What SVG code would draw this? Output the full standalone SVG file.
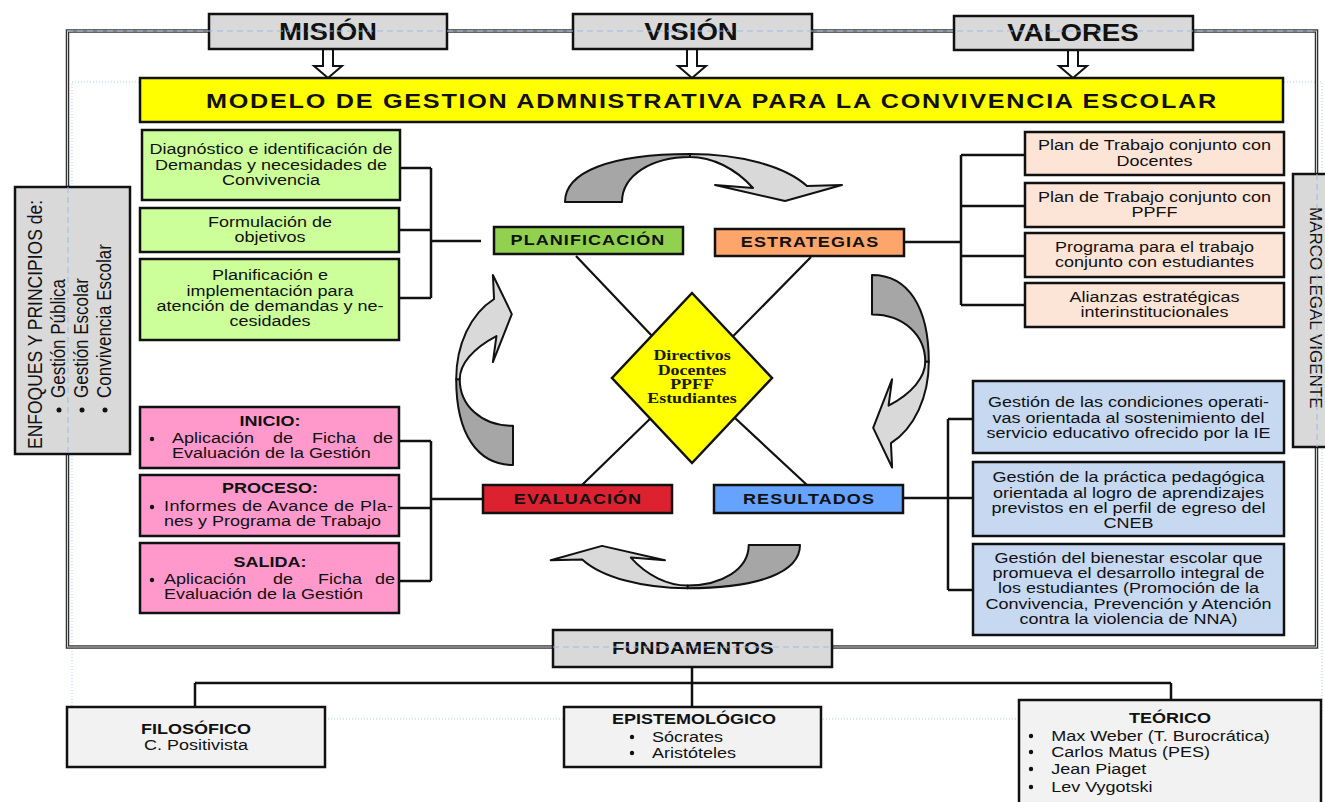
<svg xmlns="http://www.w3.org/2000/svg" width="1325" height="802" viewBox="0 0 1325 802">
<style>
text{font-family:"Liberation Sans",Arial,sans-serif;fill:#111}
.b{font-weight:bold}
.f15{font-size:15px}
.box{stroke:#111;stroke-width:2.5}
.gray{fill:#d9d9d9}
.green{fill:#ccff99}
.peach{fill:#fce4d6}
.pink{fill:#ff99cc}
.blue{fill:#c6d9f1}
.light{fill:#f2f2f2}
.conn{stroke:#111;stroke-width:2.5;fill:none}
.guide{stroke:#9dbbe0;stroke-width:1;fill:none;stroke-dasharray:6 4}
.dots{stroke:#a9cdf0;stroke-width:1;fill:none;stroke-dasharray:1 2}
.ad{fill:#a6a6a6;stroke:#111;stroke-width:2;vector-effect:non-scaling-stroke;stroke-linejoin:round}
.al{fill:#d9d9d9;stroke:#111;stroke-width:2;vector-effect:non-scaling-stroke;stroke-linejoin:round}
.lab{font-size:15px;font-weight:bold;letter-spacing:0.9px;text-anchor:middle}
.serif{font-family:"Liberation Serif","Times New Roman",serif;font-weight:bold;font-size:14px;text-anchor:middle;fill:#1a1a00}
.c{text-anchor:middle}
</style>
<defs>
<g id="arw">
<path class="ad" d="M565,202 C565,172 610,154 690,154 L690,157 C652,157 622,175 622,202 Z"/>
<path class="al" d="M690,154 C740,154 785,166 807,186 L842,185 L785,201 L715,185 L753,188 C735,168 712,157 690,157 Z"/>
</g>
</defs>

<!-- background guides and frame -->
<rect class="dots" x="72" y="82" width="1250" height="637"/>
<rect x="67.5" y="31" width="1249" height="616" fill="none" stroke="#333" stroke-width="3.5"/>
<rect x="67.5" y="31" width="1249" height="616" fill="none" stroke="#d0d0d0" stroke-width="1"/>

<!-- connectors -->
<g id="connectors">
<path d="M323,49 V66 H314 L328,78 L342,66 H333 V49 Z" fill="#fff" stroke="#111" stroke-width="2"/>
<path d="M687,49 V66 H678 L692,78 L706,66 H697 V49 Z" fill="#fff" stroke="#111" stroke-width="2"/>
<path d="M1068,50 V66 H1059 L1073,78 L1087,66 H1078 V50 Z" fill="#fff" stroke="#111" stroke-width="2"/>
<path class="conn" d="M400,168 H431 M400,230 H431 M400,298 H431 M431,168 V298 M431,241 H481"/>
<path class="conn" d="M904,242 H961 M961,155 V305 M961,155 H1025 M961,206 H1025 M961,256 H1025 M961,305 H1025"/>
<path class="conn" d="M399,441 H431 M399,508 H431 M399,581 H431 M431,441 V581 M431,499 H483"/>
<path class="conn" d="M948,419 V590 M948,419 H973 M948,590 H973 M903,498 H973"/>
<path stroke="#111" stroke-width="2.2" fill="none" d="M576,256 L692,378 M811,257 L692,378 M582,485 L692,378 M807,485 L692,378"/>
<path class="conn" d="M692,667 V707 M195,683 H1171 M195,683 V707 M1171,683 V700"/>
<use href="#arw"/>
<use href="#arw" transform="matrix(0,0.695,-1.1837,0,1111.1,-117.7)"/>
<use href="#arw" transform="matrix(-0.9,0,0,-0.9,1308.5,726.8)"/>
<use href="#arw" transform="matrix(0,-0.6859,1.1837,0,273.9,852.5)"/>
</g>

<!-- top boxes -->
<g id="mision">
<rect class="box gray" x="209" y="14" width="238" height="35"/>
<text class="b c" font-size="23" transform="translate(328,0) scale(1.2,1)" y="40">MISIÓN</text>
</g>
<g id="vision">
<rect class="box gray" x="573" y="14" width="239" height="35"/>
<text class="b c" font-size="23" transform="translate(691,0) scale(1.2,1)" y="40">VISIÓN</text>
</g>
<g id="valores">
<rect class="box gray" x="954" y="16" width="239" height="34"/>
<text class="b c" font-size="23" transform="translate(1073,0) scale(1.2,1)" y="41">VALORES</text>
</g>

<g id="titulo">
<rect class="box" fill="#ffff00" x="140" y="78" width="1143" height="44"/>
<text class="b c" font-size="21" letter-spacing="1.45" transform="translate(712,0) scale(1.2,1)" y="108">MODELO DE GESTION ADMNISTRATIVA PARA LA CONVIVENCIA ESCOLAR</text>
</g>

<!-- side boxes -->
<g id="enfoques">
<rect class="box gray" x="15" y="187" width="115" height="267"/>
<text font-size="17.5" textLength="249" lengthAdjust="spacingAndGlyphs" transform="translate(42,449) scale(1.2,1) rotate(-90)">ENFOQUES Y PRINCIPIOS de:</text>
<circle cx="59" cy="410" r="2.5" fill="#111"/>
<circle cx="82" cy="410" r="2.5" fill="#111"/>
<circle cx="105" cy="410" r="2.5" fill="#111"/>
<text font-size="17" transform="translate(65,398) scale(1.2,1) rotate(-90)">Gestión Pública</text>
<text font-size="17" transform="translate(88,398) scale(1.2,1) rotate(-90)">Gestión Escolar</text>
<text font-size="17" transform="translate(111,398) scale(1.2,1) rotate(-90)">Convivencia Escolar</text>
</g>
<g id="marco">
<rect class="box gray" x="1293" y="174" width="45" height="273"/>
<text font-size="17" transform="translate(1310,207) rotate(90)">MARCO LEGAL VIGENTE</text>
</g>

<path class="guide" d="M67,31 H1316 M68,187 V454 M1317,174 V447"/>

<!-- green boxes -->
<g id="diagnostico">
<rect class="box green" x="142" y="130" width="258" height="70"/>
<g transform="translate(271,0) scale(1.2,1)" class="f15 c">
<text y="154">Diagnóstico e identificación de</text>
<text y="170">Demandas y necesidades de</text>
<text y="185">Convivencia</text>
</g>
</g>
<g id="formulacion">
<rect class="box green" x="140" y="208" width="259" height="44"/>
<g transform="translate(270,0) scale(1.2,1)" class="f15 c">
<text y="227">Formulación de</text>
<text y="242">objetivos</text>
</g>
</g>
<g id="planif-impl">
<rect class="box green" x="140" y="259" width="259" height="81"/>
<g transform="translate(270,0) scale(1.2,1)" class="f15 c">
<text y="280">Planificación e</text>
<text y="296">implementación para</text>
<text y="311">atención de demandas y ne-</text>
<text y="326">cesidades</text>
</g>
</g>

<!-- peach boxes -->
<g id="plan-docentes">
<rect class="box peach" x="1025" y="132" width="259" height="43"/>
<g transform="translate(1154.5,0) scale(1.2,1)" class="f15 c">
<text y="150">Plan de Trabajo conjunto con</text>
<text y="166">Docentes</text>
</g>
</g>
<g id="plan-ppff">
<rect class="box peach" x="1025" y="183" width="259" height="44"/>
<g transform="translate(1154.5,0) scale(1.2,1)" class="f15 c">
<text y="202">Plan de Trabajo conjunto con</text>
<text y="217">PPFF</text>
</g>
</g>
<g id="programa">
<rect class="box peach" x="1025" y="233" width="259" height="44"/>
<g transform="translate(1154.5,0) scale(1.2,1)" class="f15 c">
<text y="252">Programa para el trabajo</text>
<text y="267">conjunto con estudiantes</text>
</g>
</g>
<g id="alianzas">
<rect class="box peach" x="1025" y="283" width="259" height="44"/>
<g transform="translate(1154.5,0) scale(1.2,1)" class="f15 c">
<text y="302">Alianzas estratégicas</text>
<text y="317">interinstitucionales</text>
</g>
</g>

<!-- pink boxes -->
<g id="inicio">
<rect class="box pink" x="140" y="407" width="259" height="61"/>
<circle cx="152" cy="439" r="2.2" fill="#111"/>
<g transform="translate(270,0) scale(1.2,1)" class="f15">
<text class="b c" y="426">INICIO:</text>
<text x="-81.7" y="443">Aplicación</text>
<text x="2.5" y="443">de</text>
<text x="35" y="443">Ficha</text>
<text x="85.8" y="443">de</text>
<text x="-81.7" y="458">Evaluación de la Gestión</text>
</g>
</g>
<g id="proceso">
<rect class="box pink" x="140" y="475" width="259" height="61"/>
<circle cx="152" cy="507" r="2.2" fill="#111"/>
<g transform="translate(270,0) scale(1.2,1)" class="f15">
<text class="b c" y="493">PROCESO:</text>
<text x="-88.3" y="511" textLength="190.8" lengthAdjust="spacing">Informes de Avance de Pla-</text>
<text x="-88.3" y="526">nes y Programa de Trabajo</text>
</g>
</g>
<g id="salida">
<rect class="box pink" x="140" y="543" width="259" height="70"/>
<circle cx="152" cy="580" r="2.2" fill="#111"/>
<g transform="translate(270,0) scale(1.2,1)" class="f15">
<text class="b c" y="567">SALIDA:</text>
<text x="-88.3" y="584">Aplicación</text>
<text x="2.5" y="584">de</text>
<text x="40" y="584">Ficha</text>
<text x="87.5" y="584">de</text>
<text x="-88.3" y="599">Evaluación de la Gestión</text>
</g>
</g>

<!-- blue boxes -->
<g id="condiciones">
<rect class="box blue" x="973" y="381" width="311" height="72"/>
<g transform="translate(1128.5,0) scale(1.2,1)" class="f15 c">
<text y="407">Gestión de las condiciones operati-</text>
<text y="423">vas orientada al sostenimiento del</text>
<text y="438">servicio educativo ofrecido por la IE</text>
</g>
</g>
<g id="practica">
<rect class="box blue" x="973" y="462" width="311" height="74"/>
<g transform="translate(1128.5,0) scale(1.2,1)" class="f15 c">
<text y="482">Gestión de la práctica pedagógica</text>
<text y="498">orientada al logro de aprendizajes</text>
<text y="513">previstos en el perfil de egreso del</text>
<text y="528">CNEB</text>
</g>
</g>
<g id="bienestar">
<rect class="box blue" x="973" y="544" width="311" height="91"/>
<g transform="translate(1128.5,0) scale(1.2,1)" class="f15 c">
<text y="563">Gestión del bienestar escolar que</text>
<text y="578">promueva el desarrollo integral de</text>
<text y="593">los estudiantes (Promoción de la</text>
<text y="609">Convivencia, Prevención y Atención</text>
<text y="624">contra la violencia de NNA)</text>
</g>
</g>

<!-- cycle labels -->
<g id="planificacion">
<rect class="box" fill="#92d050" x="494" y="227" width="189" height="27"/>
<text class="lab" transform="translate(588,0) scale(1.2,1)" y="245">PLANIFICACIÓN</text>
</g>
<g id="estrategias">
<rect class="box" fill="#fda56a" x="715" y="229" width="189" height="27"/>
<text class="lab" transform="translate(810,0) scale(1.2,1)" y="247">ESTRATEGIAS</text>
</g>
<g id="evaluacion">
<rect class="box" fill="#dc2230" x="483" y="485" width="189" height="28"/>
<text class="lab" transform="translate(578,0) scale(1.2,1)" y="504">EVALUACIÓN</text>
</g>
<g id="resultados">
<rect class="box" fill="#66a3ff" x="714" y="485" width="189" height="28"/>
<text class="lab" transform="translate(809,0) scale(1.2,1)" y="504">RESULTADOS</text>
</g>

<g id="actores">
<path d="M692,293 L772,378 L692,463 L612,378 Z" fill="#ffff00" stroke="#111" stroke-width="2.5"/>
<g transform="translate(692,0) scale(1.28,1)">
<text class="serif" y="360">Directivos</text>
<text class="serif" y="375">Docentes</text>
<text class="serif" y="389">PPFF</text>
<text class="serif" y="403">Estudiantes</text>
</g>
</g>

<!-- fundamentos -->
<g id="fundamentos">
<rect class="box gray" x="553" y="630" width="279" height="37"/>
<text class="b c" font-size="17" letter-spacing="0.3" transform="translate(693,0) scale(1.2,1)" y="654">FUNDAMENTOS</text>
</g>
<path class="guide" d="M553,647 H832"/>
<g id="filosofico">
<rect class="box light" x="67" y="707" width="258" height="60"/>
<g transform="translate(196,0) scale(1.2,1)" class="f15 c">
<text class="b" y="734">FILOSÓFICO</text>
<text y="750">C. Positivista</text>
</g>
</g>
<g id="epistemologico">
<rect class="box light" x="564" y="707" width="257" height="60"/>
<circle cx="632" cy="737" r="2.2" fill="#111"/>
<circle cx="632" cy="753" r="2.2" fill="#111"/>
<g transform="translate(694,0) scale(1.2,1)" class="f15">
<text class="b c" y="724">EPISTEMOLÓGICO</text>
<text x="-35" y="742">Sócrates</text>
<text x="-35" y="758">Aristóteles</text>
</g>
</g>
<g id="teorico">
<rect class="box light" x="1019" y="700" width="302" height="112"/>
<circle cx="1031" cy="736" r="2.2" fill="#111"/>
<circle cx="1031" cy="752" r="2.2" fill="#111"/>
<circle cx="1031" cy="769" r="2.2" fill="#111"/>
<circle cx="1031" cy="787" r="2.2" fill="#111"/>
<g transform="translate(1170,0) scale(1.2,1)" class="f15">
<text class="b c" y="723">TEÓRICO</text>
<text x="-99" y="741">Max Weber (T. Burocrática)</text>
<text x="-99" y="757">Carlos Matus (PES)</text>
<text x="-99" y="774">Jean Piaget</text>
<text x="-99" y="792">Lev Vygotski</text>
</g>
</g>
</svg>
